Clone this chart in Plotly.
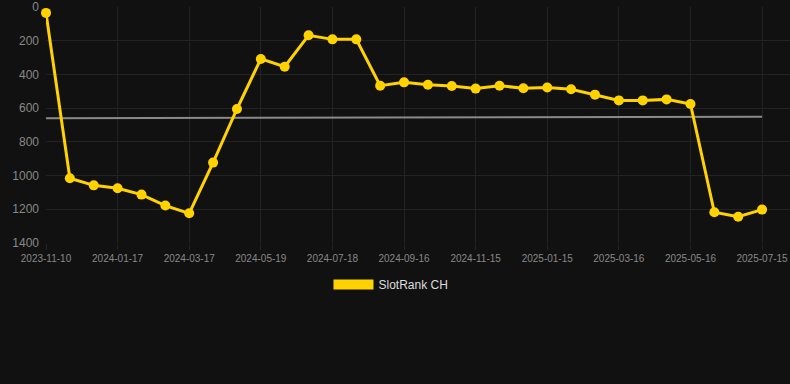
import plotly.graph_objects as go

dates = ["2023-11-10", "2023-12-03", "2023-12-25", "2024-01-17", "2024-02-06", "2024-02-26",
         "2024-03-17", "2024-04-07", "2024-04-28", "2024-05-19", "2024-06-08", "2024-06-28",
         "2024-07-18", "2024-08-07", "2024-08-27", "2024-09-16", "2024-10-06", "2024-10-26",
         "2024-11-15", "2024-12-05", "2024-12-25", "2025-01-15", "2025-02-04", "2025-02-24",
         "2025-03-16", "2025-04-05", "2025-04-25", "2025-05-16", "2025-06-05", "2025-06-25",
         "2025-07-15"]
rank = [35, 1016, 1058, 1075, 1113, 1178, 1224, 923, 605, 308, 354, 168, 192, 192, 467,
        447, 461, 469, 484, 467, 482, 478, 488, 520, 554, 554, 548, 575, 1218, 1244, 1202]
tick_labels = ["2023-11-10", "2024-01-17", "2024-03-17", "2024-05-19", "2024-07-18",
               "2024-09-16", "2024-11-15", "2025-01-15", "2025-03-16", "2025-05-16", "2025-07-15"]
trend_x = ["2023-11-10", "2025-07-15"]
trend_y = [660, 651]
y_ticks = [0, 200, 400, 600, 800, 1000, 1200, 1400]

GOLD = "#FFD200"
fig = go.Figure()
fig.add_trace(go.Scatter(x=trend_x, y=trend_y, mode="lines",
                         line=dict(color="#8a8a8a", width=2), showlegend=False, hoverinfo="skip"))
fig.add_trace(go.Scatter(x=dates, y=rank, mode="lines+markers", name="SlotRank CH",
                         line=dict(color=GOLD, width=3), marker=dict(color=GOLD, size=10),
                         showlegend=False, cliponaxis=False))
fig.add_trace(go.Scatter(x=[None], y=[None], mode="lines", name="SlotRank CH",
                         line=dict(color=GOLD, width=12), showlegend=True))

fig.update_layout(
    width=790, height=384,
    paper_bgcolor="#111111", plot_bgcolor="#111111",
    margin=dict(l=46, r=0, t=7, b=141),
    font=dict(family="Liberation Sans, Arial, sans-serif", color="#888888"),
    showlegend=True,
    legend=dict(orientation="h", x=0.4637, xanchor="center", y=-0.114, yanchor="top",
                font=dict(size=12, color="#dddddd"), itemwidth=40,
                bgcolor="rgba(0,0,0,0)"),
    xaxis=dict(type="category", categoryorder="array", categoryarray=dates,
               tickmode="array", tickvals=tick_labels, ticktext=tick_labels,
               range=[0, 31.17], showgrid=True, gridcolor="#232323", gridwidth=1,
               ticks="outside", ticklen=6, tickcolor="#232323",
               tickfont=dict(size=10, color="#888888"), zeroline=False, showline=False),
    yaxis=dict(range=[1400, 0], tickmode="array", tickvals=y_ticks,
               showgrid=True, gridcolor="#232323", gridwidth=1,
               tickfont=dict(size=12, color="#888888"), zeroline=False, showline=False,
               ticks="", ticklabelstandoff=6),
)
fig.write_html("out.html", config={"displayModeBar": False},
               post_script="document.body.style.margin='0';document.body.style.background='#111111';")
